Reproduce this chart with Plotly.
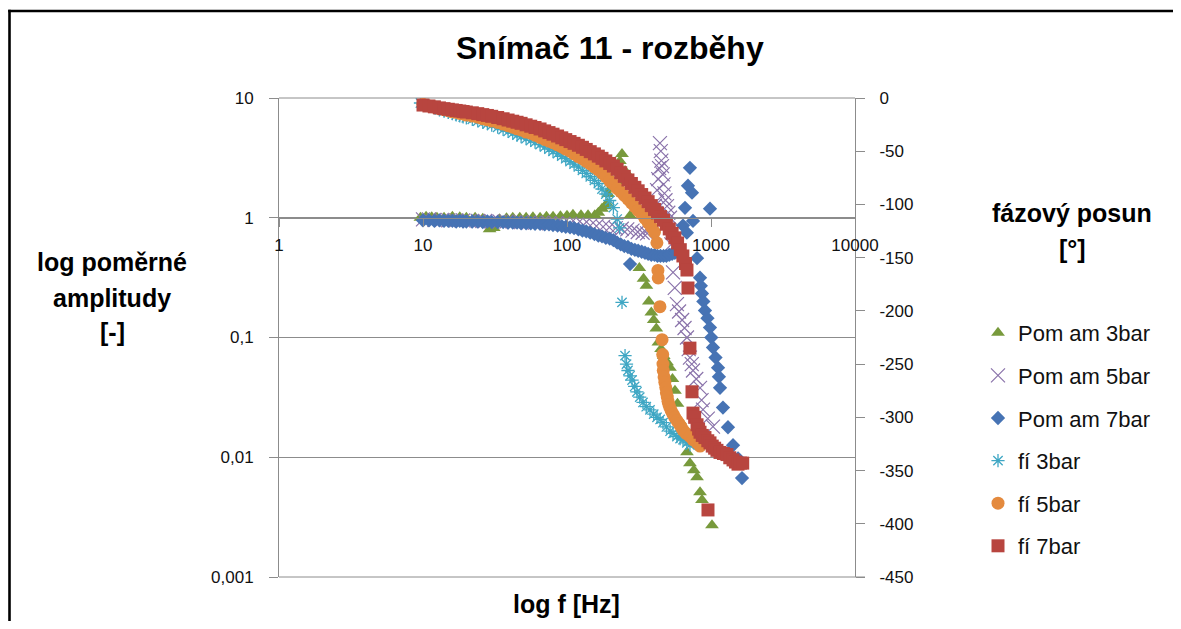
import plotly.graph_objects as go

# ---------------- data ----------------
# Pom am 3bar  (relative amplitude, left log axis)
f_am3 = [9.6, 10.5, 11.5, 12.5, 14, 16, 18, 20, 23, 26, 29, 31, 34, 38, 42, 47, 52, 58, 65, 72,
         80, 90, 100, 110, 125, 140, 156, 165, 175, 183, 190, 193, 200, 210, 220, 233, 241, 245, 253,
         274, 318, 340, 356, 370, 385, 400, 417, 431, 450, 470, 495, 519, 540, 562, 585, 610, 640,
         681, 714, 760, 800, 839, 866, 1016]
am3 = [1.0, 1.02, 1.01, 1.0, 1.0, 1.02, 1.01, 1.0, 1.0, 0.98, 0.8, 0.82, 0.97, 0.99, 1.0, 1.0, 1.0, 1.01, 1.0, 1.02,
       1.02, 1.03, 1.04, 1.06, 1.05, 1.05, 1.05, 1.1, 1.19, 1.25, 1.31, 1.58, 1.75, 2.0, 2.4, 2.98, 3.41, 2.03, 2.46,
       1.04, 0.38, 0.31, 0.27, 0.2, 0.162, 0.14, 0.119, 0.091, 0.08, 0.07, 0.062, 0.056, 0.045, 0.036, 0.028, 0.020, 0.015,
       0.011, 0.0089, 0.0078, 0.0068, 0.0051, 0.0044, 0.0027]

# Pom am 5bar
f_am5 = [10, 11, 12, 13.5, 15, 17, 19, 21, 24, 27, 30, 34, 38, 43, 48, 54, 60, 67, 75, 84,
         94, 105, 117, 130, 145, 160, 178, 197, 218, 240, 262, 285, 310, 335, 360, 377, 395, 408, 422, 430,
         436, 442, 448, 452, 457, 462, 468, 475, 483, 495, 505, 519, 530, 545, 560, 580, 600, 630, 655, 681,
         700, 714, 735, 750, 790, 839, 860, 880, 950, 1032]
am5 = [0.97, 0.97, 0.96, 0.96, 0.95, 0.95, 0.95, 0.94, 0.94, 0.94, 0.93, 0.93, 0.93, 0.92, 0.92, 0.91, 0.91, 0.91, 0.9, 0.9,
       0.89, 0.89, 0.88, 0.87, 0.86, 0.85, 0.84, 0.83, 0.82, 0.81, 0.8, 0.78, 0.76, 0.75, 0.74, 0.83, 1.0, 1.26, 1.7, 2.1,
       2.6, 4.2, 3.6, 3.0, 2.7, 2.3, 1.9, 1.6, 1.4, 1.25, 1.1, 1.0, 0.6, 0.35, 0.26, 0.19, 0.165, 0.14, 0.12, 0.10,
       0.08, 0.068, 0.06, 0.053, 0.045, 0.038, 0.03, 0.025, 0.021, 0.018]

# Pom am 7bar
f_am7 = [10, 11, 12, 13, 14, 15, 16, 17, 18, 19, 20, 22, 24, 26, 28, 30, 33, 36, 39, 42, 45, 48,
         52, 56, 60, 65, 70, 75, 80, 86, 92, 98, 105, 112, 120, 128, 136, 145, 155, 165, 175, 186, 198,
         210, 223, 236, 250, 265, 274, 280, 296, 312, 330, 348, 366, 385, 405, 425, 446, 468, 490, 513, 537, 561,
         580, 639, 660, 680, 692, 714, 738, 750, 800, 839, 850, 866, 885, 908, 945, 984, 984, 1005, 1032,
         1075, 1119, 1135, 1155, 1211, 1312, 1422, 1541, 1642]
am7 = [0.95, 0.95, 0.94, 0.95, 0.94, 0.94, 0.94, 0.93, 0.94, 0.93, 0.93, 0.93, 0.93, 0.92, 0.93, 0.92, 0.92, 0.92, 0.91, 0.91, 0.91, 0.90,
       0.90, 0.90, 0.89, 0.89, 0.88, 0.88, 0.87, 0.86, 0.85, 0.84, 0.83, 0.82, 0.80, 0.78, 0.77, 0.75, 0.73, 0.71, 0.70, 0.68, 0.67,
       0.65, 0.62, 0.60, 0.58, 0.57, 0.41, 0.55, 0.54, 0.53, 0.52, 0.51, 0.50, 0.49, 0.49, 0.48, 0.48, 0.48, 0.48, 0.49, 0.50, 0.51,
       0.52, 0.86, 1.21, 0.75, 1.85, 2.61, 1.62, 0.94, 0.46, 0.316, 0.27, 0.233, 0.2, 0.168, 0.145, 0.121, 1.19, 0.1, 0.0825,
       0.068, 0.056, 0.047, 0.038, 0.026, 0.0178, 0.0126, 0.0098, 0.0067]

# fí 3bar  (phase shift, right axis)
f_fi3 = [9.6, 10, 11, 12, 13, 14, 15, 16, 17, 18, 19, 20, 22, 24, 26, 28, 30, 33, 36, 39, 42, 45, 48,
         52, 56, 60, 65, 70, 75, 80, 86, 92, 98, 105, 112, 120, 128, 136, 145, 155, 165, 175, 186, 198, 210,
         223, 232, 241, 253, 259, 265, 274, 283, 295, 306, 320, 337, 355, 377, 400, 422, 443, 464, 490, 520,
         545, 580, 610, 639, 680, 714]
fi3 = [-4.7, -5.6, -7.5, -9.0, -11.1, -12.4, -13.6, -14.8, -15.9, -16.8, -17.8, -18.6, -20.1, -21.6, -23.0, -24.2, -25.6,
       -27.5, -29.6, -31.4, -33.1, -34.8, -36.3, -38.2, -39.9, -41.5, -43.8, -46.0, -48.1, -50.1, -52.3, -54.7, -57.0,
       -59.7, -62.2, -64.8, -67.9, -70.9, -74.0, -77.3, -80.4, -85.5, -90.2, -96.3, -102.9, -113.7, -122.1, -192, -242,
       -250, -256, -261, -265, -271, -276, -281, -286, -290, -293, -297, -300, -302, -305, -309, -313, -315, -318, -320,
       -321, -324, -326]

# fí 5bar
f_fi5 = [10, 11, 12, 13, 14, 15, 16, 17, 18, 19, 20, 22, 24, 26, 28, 30, 33, 36, 39, 42, 45, 48,
         52, 56, 60, 65, 70, 75, 80, 86, 92, 98, 105, 112, 120, 128, 136, 145, 155, 165, 175, 186, 198,
         210, 223, 236, 250, 265, 280, 296, 312, 330, 348, 366, 385, 405, 421, 428, 430, 442, 457, 462, 464,
         466, 472, 478, 485, 490, 497, 503, 510, 519, 530, 545, 560, 580, 600, 620, 639, 670, 714, 750, 800, 839]
fi5 = [-6, -7.5, -8.5, -10, -11, -12, -13, -13.5, -14.5, -15, -16, -17, -18, -19.5, -20.5, -21.5, -23, -24.5, -26, -27.5, -29, -30,
       -32, -33, -35, -37, -39, -40.5, -42, -44, -46, -48, -50, -52.5, -55, -57, -59.5, -62, -65, -67.5, -70.5, -74, -78,
       -81, -85, -88, -91.5, -95, -98.5, -102, -105.5, -109, -113, -117, -121, -126, -136, -162, -169, -196, -227, -241, -250,
       -256, -262, -267, -272, -277, -281, -285, -288, -291, -294, -297, -300, -303, -306, -309, -312, -315, -318, -321, -324, -327]

# fí 7bar
f_fi7 = [10, 11, 12, 13, 14, 15, 16, 17, 18, 19, 20, 22, 24, 26, 28, 30, 33, 36, 39, 42, 45, 48,
         52, 56, 60, 65, 70, 75, 80, 86, 92, 98, 105, 112, 120, 128, 136, 145, 155, 165, 175, 186, 198,
         210, 223, 236, 250, 265, 280, 296, 312, 330, 348, 366, 385, 405, 425, 446, 468, 490, 513, 537, 561,
         586, 612, 638, 665, 681, 692, 714, 738, 750, 770, 800, 820, 839, 870, 908, 950, 984, 1020, 1060,
         1100, 1155, 1220, 1290, 1350, 1422, 1480, 1540, 1600, 1660, 953]
fi7 = [-6.6, -7.5, -8.3, -9.3, -10.0, -10.6, -11.2, -11.7, -12.2, -12.7, -13.2, -13.9, -14.7, -15.6, -16.4, -17.2, -18.3,
       -19.5, -20.7, -21.8, -22.8, -23.8, -25.2, -26.5, -27.7, -29.1, -30.9, -32.5, -34.0, -35.7, -37.4, -39.1, -40.9,
       -42.6, -44.4, -46.3, -48.3, -50.4, -52.5, -54.6, -56.7, -59.1, -61.5, -63.9, -66.9, -70.2, -73.6, -77.0, -80.3,
       -83.9, -87.2, -90.7, -94.0, -97.4, -101.1, -104.7, -108.0, -111.4, -114.8, -118.6, -123.0, -127.2, -131.4,
       -136.2, -142.5, -148.4, -155.5, -161.6, -178.5, -235, -276, -296, -300, -307, -311, -314, -317, -319, -322, -324,
       -327, -329, -331, -333, -334, -335, -338, -340, -342, -344, -343, -343, -387]

series_names = ["Pom am 3bar", "Pom am 5bar", "Pom am 7bar", "fí 3bar", "fí 5bar", "fí 7bar"]
x_ticks = [1, 10, 100, 1000, 10000]
x_tick_text = ["1", "10", "100", "1000", "10000"]
y_ticks = [0.001, 0.01, 0.1, 1, 10]
y_tick_text = ["0,001", "0,01", "0,1", "1", "10"]
y2_ticks = [0, -50, -100, -150, -200, -250, -300, -350, -400, -450]
y2_tick_text = ["0", "-50", "-100", "-150", "-200", "-250", "-300", "-350", "-400", "-450"]

# ---------------- styling ----------------
GREEN = "#789A3C"
PURPLE = "#8A73AA"
BLUE = "#4673B4"
CYAN = "#3FA7C4"
ORANGE = "#E48A3E"
RED = "#B8453F"
GRID = "#8C8C8C"
FONT = "Liberation Sans"

OFF = 8                      # page body margin of the html page
W, H = 1181 - 2 * OFF, 629 - 2 * OFF
# plot area in page pixels
L, R, T, B = 279, 855, 98, 577


def px(xp):
    return (xp - L) / (R - L)


def py(yp):
    return (B - yp) / (B - T)


fig = go.Figure()

specs = [
    (f_am3, am3, "y", dict(symbol="triangle-up", size=12, color=GREEN, line=dict(width=0))),
    (f_am5, am5, "y", dict(symbol="x-thin", size=14, color=PURPLE, line=dict(width=1.2, color=PURPLE))),
    (f_am7, am7, "y", dict(symbol="diamond", size=11, color=BLUE, line=dict(width=0))),
    (f_fi3, fi3, "y2", dict(symbol="asterisk", size=11, color=CYAN, line=dict(width=1.3, color=CYAN))),
    (f_fi5, fi5, "y2", dict(symbol="circle", size=13, color=ORANGE, line=dict(width=0))),
    (f_fi7, fi7, "y2", dict(symbol="square", size=13, color=RED, line=dict(width=0))),
]
for i, (xs, ys, ax, mk) in enumerate(specs):
    fig.add_trace(go.Scatter(x=xs, y=ys, mode="markers", name=series_names[i], yaxis=ax,
                             marker=mk, legendgroup="g%d" % i, hoverinfo="skip"))

tickfont = dict(family=FONT, size=17, color="#111111")

fig.update_layout(
    width=W, height=H,
    margin=dict(l=L - OFF, r=W - (R - OFF), t=T - OFF, b=H - (B - OFF), pad=0),
    paper_bgcolor="white", plot_bgcolor="white",
    showlegend=True,
    legend=dict(x=px(978), y=py(312), xanchor="left", yanchor="top",
                font=dict(family=FONT, size=22, color="#111111"),
                tracegroupgap=11, bgcolor="rgba(0,0,0,0)", itemsizing="trace"),
    xaxis=dict(type="log", range=[0, 4], anchor="free", position=0.75,
               showgrid=False, zeroline=False, showline=True, linecolor=GRID, linewidth=1,
               ticks="outside", ticklen=8, tickcolor=GRID, tickwidth=1,
               tickvals=x_ticks, ticktext=x_tick_text, tickfont=tickfont, ticklabelstandoff=4),
    yaxis=dict(type="log", range=[-3, 1], domain=[0, 1],
               showgrid=True, gridcolor=GRID, gridwidth=1, zeroline=False,
               showline=True, linecolor=GRID, linewidth=1,
               ticks="outside", ticklen=9, tickcolor=GRID,
               tickvals=y_ticks, ticktext=y_tick_text, tickfont=tickfont, ticklabelstandoff=12),
    yaxis2=dict(overlaying="y", side="right", range=[-450, 0], anchor="x",
                showgrid=False, zeroline=False, showline=True, linecolor=GRID, linewidth=1,
                ticks="outside", ticklen=9, tickcolor=GRID,
                tickvals=y2_ticks, ticktext=y2_tick_text, tickfont=tickfont, ticklabelstandoff=11),
)

# top and bottom border lines of the plot area
fig.add_shape(type="line", xref="paper", yref="paper", x0=0, x1=1, y0=1, y1=1,
              line=dict(color=GRID, width=1), layer="below")
fig.add_shape(type="line", xref="paper", yref="paper", x0=0, x1=px(865), y0=0, y1=0,
              line=dict(color=GRID, width=1), layer="below")
# chart frame: only its left and top edges are inside the picture (drawn as thin filled bands)
fig.add_shape(type="rect", xref="paper", yref="paper", x0=px(8.2), x1=px(10.8), y0=py(640), y1=py(9.8),
              fillcolor="black", line=dict(width=0))
fig.add_shape(type="rect", xref="paper", yref="paper", x0=px(8.2), x1=px(1400), y0=py(12.3), y1=py(9.8),
              fillcolor="black", line=dict(width=0))

bold = dict(family=FONT, size=25, color="black")
ann = [
    dict(text="<b>Snímač 11 - rozběhy</b>", x=px(610), y=py(48), font=dict(family=FONT, size=32, color="black")),
    dict(text="<b>log f [Hz]</b>", x=px(566), y=py(604), font=bold),
    dict(text="<b>log poměrné</b>", x=px(112), y=py(262), font=bold),
    dict(text="<b>amplitudy</b>", x=px(112), y=py(298), font=bold),
    dict(text="<b>[-]</b>", x=px(112), y=py(332), font=bold),
    dict(text="<b>fázový posun</b>", x=px(1072), y=py(213), font=bold),
    dict(text="<b>[°]</b>", x=px(1072), y=py(249), font=bold),
]
for a in ann:
    fig.add_annotation(xref="paper", yref="paper", showarrow=False, xanchor="center", yanchor="middle", **a)

fig.write_html("out.html")
